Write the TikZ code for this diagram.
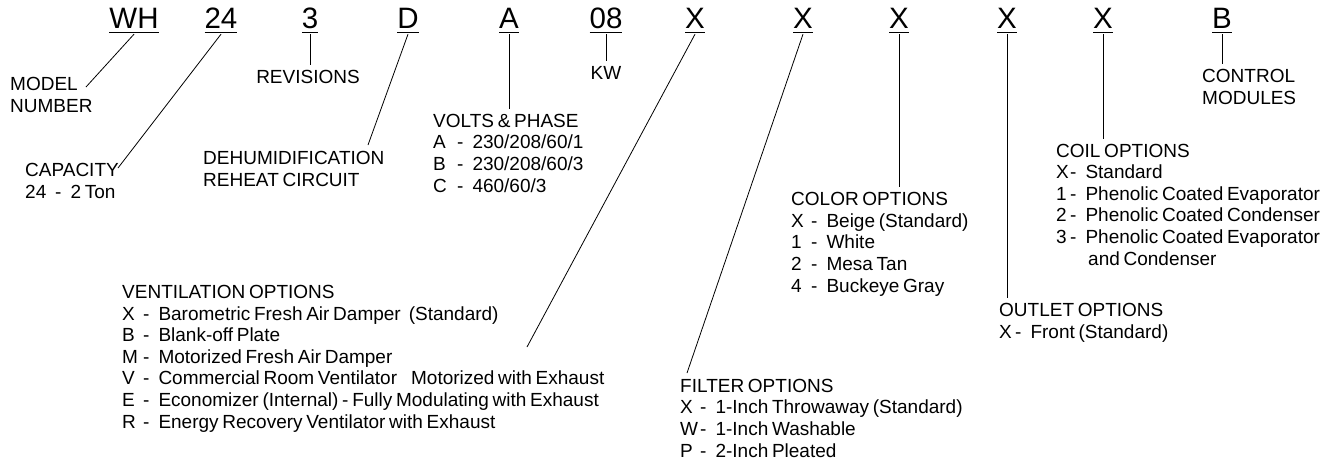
\documentclass[tikz,border=0pt]{standalone}
\usepackage{fontspec}
\setmainfont{Liberation Sans}[WordSpace=0.7]
\usetikzlibrary{positioning}
\tikzset{code/.style={font=\fontsize{29.5}{32}\selectfont,inner sep=1.5pt,anchor=base},
  info/.style={font=\fontsize{19}{21.6}\selectfont,align=left,inner xsep=0pt,inner ysep=5pt,anchor=base west},
  lead/.style={line width=0.8pt}}
\newcommand{\codeul}[1]{\setbox0\hbox{#1}\rlap{\rule[-4.5pt]{\wd0}{1pt}}\box0}
\newcommand{\opt}[3][20pt]{\makebox[#1][l]{#2}-\hspace{9pt}#3}

\begin{document}
\begin{tikzpicture}[x=1pt,y=-1pt]
\useasboundingbox (0,0) rectangle (1336,466);

% model number code
\node[code] (model) at (134,28) {\codeul{WH}};
\node[code] (capacity) at (221,28) {\codeul{24}};
\node[code] (revision) at (310,28) {\codeul{3}};
\node[code] (reheat) at (408,28) {\codeul{D}};
\node[code] (volts) at (509,28) {\codeul{A}};
\node[code] (heater) at (606,28) {\codeul{08}};
\node[code] (vent) at (695,28) {\codeul{X}};
\node[code] (filter) at (803,28) {\codeul{X}};
\node[code] (color) at (899,28) {\codeul{X}};
\node[code] (outlet) at (1007,28) {\codeul{X}};
\node[code] (coil) at (1103,28) {\codeul{X}};
\node[code] (control) at (1222,28) {\codeul{B}};

% descriptions (placed at the baseline of their last line)
\node[info] (modelinfo) at (10,112) {MODEL\\NUMBER};
\node[info] (capinfo) at (25,198) {CAPACITY\\\opt[30pt]{24}{2 Ton}};
\node[info,anchor=base] (revinfo) at (308,83) {REVISIONS};
\node[info] (reheatinfo) at (203,186) {DEHUMIDIFICATION\\REHEAT CIRCUIT};
\node[info] (voltsinfo) at (433,192) {VOLTS \& PHASE\\\opt[24pt]{A}{230/208/60/1}\\\opt[24pt]{B}{230/208/60/3}\\\opt[24pt]{C}{460/60/3}};
\node[info,anchor=base] (heaterinfo) at (606,79) {KW};
\node[info] (ventinfo) at (122,428) {VENTILATION OPTIONS\\
  \opt[21pt]{X}{Barometric Fresh Air Damper\hspace{8pt}(Standard)}\\
  \opt[21pt]{B}{Blank-off Plate}\\
  \opt[21pt]{M}{Motorized Fresh Air Damper}\\
  \opt[21pt]{V}{Commercial Room Ventilator\hspace{14pt}Motorized with Exhaust}\\
  \opt[21pt]{E}{Economizer (Internal) - Fully Modulating with Exhaust}\\
  \opt[21pt]{R}{Energy Recovery Ventilator with Exhaust}};
\node[info] (filterinfo) at (680,457) {FILTER OPTIONS\\\opt{X}{1-Inch Throwaway (Standard)}\\\opt{W}{1-Inch Washable}\\\opt{P}{2-Inch Pleated}};
\node[info] (colorinfo) at (791,292) {COLOR OPTIONS\\\opt{X}{Beige (Standard)}\\\opt{1}{White}\\\opt{2}{Mesa Tan}\\\opt{4}{Buckeye Gray}};
\node[info] (outletinfo) at (999,338) {OUTLET OPTIONS\\\opt[16pt]{X}{Front (Standard)}};
\node[info] (coilinfo) at (1056,265) {COIL OPTIONS\\\opt[14pt]{X}{Standard}\\\opt[14pt]{1}{Phenolic Coated Evaporator}\\
  \opt[14pt]{2}{Phenolic Coated Condenser}\\\opt[14pt]{3}{Phenolic Coated Evaporator}\\\hspace*{32pt}and Condenser};
\node[info] (controlinfo) at (1202,104) {CONTROL\\MODULES};

% free ends of the slanted leaders
\coordinate (modelend) at (86,87);
\coordinate (capend) at (118,168);
\coordinate (reheatend) at (368,145);
\coordinate (ventend) at (527,347);
\coordinate (filterend) at (687,373);

\draw[lead] (model.south) -- (modelend);
\draw[lead] (capacity.south) -- (capend);
\draw[lead] (reheat.south) -- (reheatend);
\draw[lead] (vent.south) -- (ventend);
\draw[lead] (filter.south) -- (filterend);
\draw[lead] (revision.south) -- (revision.south |- revinfo.north);
\draw[lead] (volts.south) -- (volts.south |- voltsinfo.north);
\draw[lead] (heater.south) -- (heater.south |- heaterinfo.north);
\draw[lead] (color.south) -- (color.south |- colorinfo.north);
\draw[lead] (outlet.south) -- (outlet.south |- outletinfo.north);
\draw[lead] (coil.south) -- (coil.south |- coilinfo.north);
\draw[lead] (control.south) -- (control.south |- controlinfo.north);

\end{tikzpicture}
\end{document}
